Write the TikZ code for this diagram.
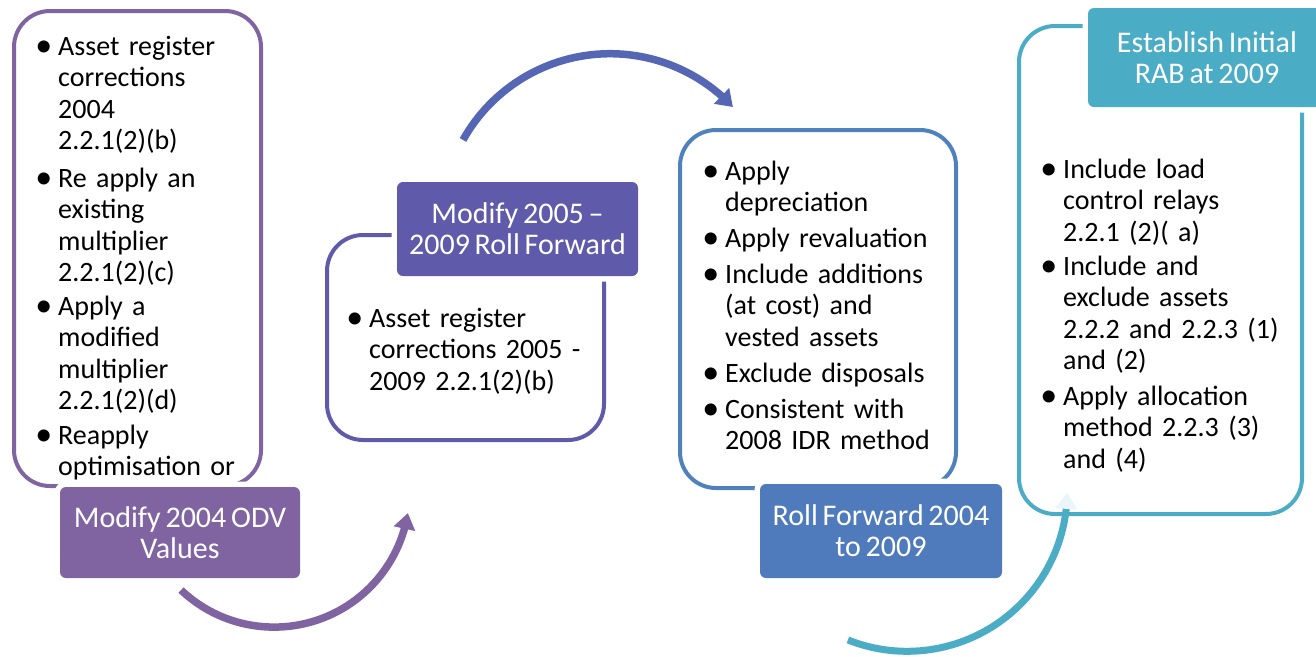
\documentclass[tikz,border=0pt]{standalone}
\usepackage{fontspec}
\setmainfont[WordSpace=0.7]{Carlito}
\usetikzlibrary{arrows.meta,bending}
\definecolor{cPurple}{HTML}{8064A2}
\definecolor{cViolet}{HTML}{5F5BAA}
\definecolor{cVArrow}{HTML}{5566B5}
\definecolor{cBlue}{HTML}{4F7BBD}
\definecolor{cBlueLine}{HTML}{4F81BD}
\definecolor{cTeal}{HTML}{4BACC6}
\tikzset{
  outbox/.style={draw=#1, line width=4pt, rounded corners=36pt, inner sep=0pt, fill=white},
  titlebox/.style={fill=#1, rounded corners=6pt, inner sep=0pt, text=white, align=center,
     font=\fontsize{30}{31}\selectfont, preaction={draw=white, line width=11pt}},
  item/.style={anchor=base west, inner sep=0pt, text width=270pt, align=left,
     font=\fontsize{28}{31.5}\selectfont},
  flow/.style={line width=7.5pt, draw=#1, -{Triangle[width=21pt,length=16pt,flex]}},
}
\newcommand{\bul}{\llap{\raisebox{-1pt}{\fontsize{34}{0}\selectfont\textbullet}\hspace{6pt}}}
\begin{document}
\begin{tikzpicture}[x=1pt,y=-1pt]
\useasboundingbox (0,0) rectangle (1316,656);

% outline boxes
\node[outbox=cPurple, minimum width=247pt, minimum height=475pt] (b1) at (137.5,248.5) {};
\node[outbox=cViolet, minimum width=277pt, minimum height=205pt] (b2) at (465.5,337.5) {};
\node[outbox=cBlueLine, minimum width=276pt, minimum height=358pt] (b3) at (818,309) {};
\node[outbox=cTeal, minimum width=283pt, minimum height=488pt] (b4) at (1160.5,270) {};

% box 1 text
\node[item] (t11) at (58,55) {\bul Asset register\\corrections\\2004\\2.2.1(2)(b)};
\node[item] (t12) at (58,187) {\bul Re apply an\\existing\\multiplier\\2.2.1(2)(c)};
\node[item] (t13) at (58,315) {\bul Apply a\\modified\\multiplier\\2.2.1(2)(d)};
\node[item] (t14) at (58,444) {\bul Reapply\\optimisation or};

% box 2 text
\node[item] (t21) at (369,327) {\bul Asset register\\corrections 2005 -\\2009 2.2.1(2)(b)};

% box 3 text
\node[item] (t31) at (725,180) {\bul Apply\\depreciation};
\node[item] (t32) at (725,247) {\bul Apply revaluation};
\node[item] (t33) at (725,283) {\bul Include additions\\(at cost) and\\vested assets};
\node[item] (t34) at (725,382) {\bul Exclude disposals};
\node[item] (t35) at (725,418) {\bul Consistent with\\2008 IDR method};

% box 4 text
\node[item] (t41) at (1063,178) {\bul Include load\\control relays\\2.2.1 (2)( a)};
\node[item] (t42) at (1063,275) {\bul Include and\\exclude assets\\2.2.2 and 2.2.3 (1)\\and (2)};
\node[item] (t43) at (1063,405) {\bul Apply allocation\\method 2.2.3 (3)\\and (4)};

% title boxes
\node[titlebox=cPurple, minimum width=240pt, minimum height=91pt] (h1) at (180,532.5) {Modify 2004 ODV\\Values};
\node[titlebox=cViolet, minimum width=241pt, minimum height=94pt] (h2) at (517.5,229) {Modify 2005 --\\2009 Roll Forward};
\node[titlebox=cBlue, minimum width=242pt, minimum height=94pt] (h3) at (881,531) {Roll Forward 2004\\to 2009};
\node[titlebox=cTeal, minimum width=238pt, minimum height=99pt] (h4) at (1207,57.5) {Establish Initial\\RAB at 2009};

% curved arrows
\coordinate (c1) at (274.1,491.6);
\coordinate (c2) at (610,222.1);
\coordinate (c3) at (907.1,491.2);
\draw[flow=cPurple] (c1) ++(-133.4:135.5pt) arc[start angle=-133.4, end angle=-9.1, radius=135.5pt];
\draw[flow=cVArrow] (c2) ++(150.8:168.4pt) arc[start angle=150.8, end angle=43.1, radius=168.4pt];
\draw[line width=7pt, draw=cTeal, -{Triangle[width=21pt,length=16pt,flex,color=cTeal!12]}] (c3) ++(-111.7:160.1pt) arc[start angle=-111.7, end angle=-0.6, radius=160.1pt];
\end{tikzpicture}
\end{document}
